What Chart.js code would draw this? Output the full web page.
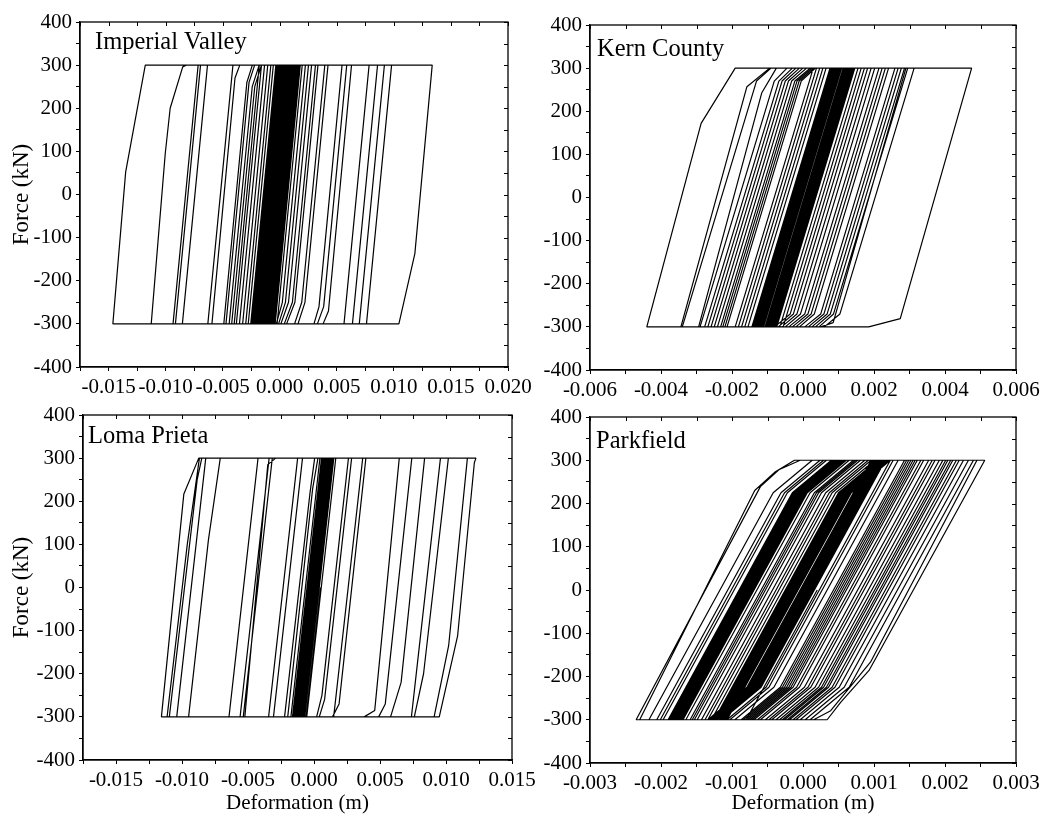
<!DOCTYPE html>
<html>
<head>
<meta charset="utf-8">
<script src="https://cdn.jsdelivr.net/npm/chart.js@4.4.0/dist/chart.umd.min.js"></script>
<style>
  html, body { margin: 0; padding: 0; background: #fff; }
  #wrap { position: relative; width: 1063px; height: 821px; overflow: hidden; }
  #wrap canvas { position: absolute; left: 0; top: 0; }
</style>
</head>
<body>
<div id="wrap">
  <canvas id="iv" width="1063" height="821"></canvas>
  <canvas id="kc" width="1063" height="821"></canvas>
  <canvas id="lp" width="1063" height="821"></canvas>
  <canvas id="pf" width="1063" height="821"></canvas>
</div>
<script>
// hysteresis paths, [deformation (m), force (kN)]
var imperialValley = [
  [-0.00150,-300],[0.00070,300],[0.00080,300],[-0.00140,-300],
  [-0.00160,-300],[0.00060,300],[0.00090,300],[-0.00130,-300],
  [-0.00171,-300],[0.00049,300],[0.00100,300],[-0.00120,-300],
  [-0.00182,-300],[0.00038,300],[0.00110,300],[-0.00110,-300],
  [-0.00193,-300],[0.00027,300],[0.00122,300],[-0.00098,-300],
  [-0.00204,-300],[0.00016,300],[0.00134,300],[-0.00086,-300],
  [-0.00215,-300],[0.00005,300],[0.00146,300],[-0.00074,-300],
  [-0.00232,-300],[-0.00012,300],[0.00156,300],[-0.00064,-300],
  [-0.00254,-300],[-0.00034,300],[0.00175,300],[-0.00045,-300],
  [-0.00276,-300],[-0.00056,300],[0.00197,300],[-0.00023,-300],
  [-0.00155,-300],[0.00065,300],[0.00085,300],[-0.00135,-300],
  [-0.00166,-300],[0.00054,300],[0.00095,300],[-0.00125,-300],
  [-0.00177,-300],[0.00043,300],[0.00105,300],[-0.00115,-300],
  [-0.00188,-300],[0.00032,300],[0.00116,300],[-0.00104,-300],
  [-0.00199,-300],[0.00021,300],[0.00128,300],[-0.00092,-300],
  [-0.00210,-300],[0.00010,300],[0.00140,300],[-0.00080,-300],
  [-0.00222,-300],[-0.00002,300],[0.00151,300],[-0.00069,-300],
  [-0.00228,-300],[-0.00008,300],[0.00162,300],[-0.00058,-300],
  [-0.00238,-300],[-0.00018,300],[0.00168,300],[-0.00052,-300],
  [-0.00246,-300],[-0.00026,300],[0.00180,300],[-0.00040,-300],
  [-0.00298,-300],[-0.00078,300],[0.00225,300],[0.00023,-250],[-0.00030,-300],
  [-0.00325,-300],[-0.00105,300],[0.00252,300],[0.00050,-250],[-0.00010,-300],
  [-0.00353,-300],[-0.00133,300],[0.00279,300],[0.00077,-250],[0.00010,-300],
  [-0.00380,-300],[-0.00160,300],[0.00313,300],[0.00111,-250],[0.00040,-300],
  [-0.00399,-300],[-0.00179,300],[0.00335,300],[0.00133,-250],[0.00060,-300],
  [-0.00421,-300],[-0.00219,250],[-0.00160,300],[0.00395,300],[0.00193,-250],[0.00130,-300],
  [-0.00443,-300],[-0.00241,250],[-0.00180,300],[0.00423,300],[0.00221,-250],[0.00160,-300],
  [-0.00471,-300],[-0.00269,260],[-0.00220,300],[0.00546,300],[0.00344,-260],[0.00300,-300],
  [-0.00490,-300],[-0.00288,260],[-0.00240,300],[0.00587,300],[0.00385,-260],[0.00330,-300],
  [-0.00594,-300],[-0.00392,270],[-0.00350,300],[0.00629,300],[0.00427,-270],[0.00380,-300],
  [-0.00630,-300],[-0.00410,300],[0.00783,300],[0.00563,-300],
  [-0.00853,-300],[-0.00633,300],[0.00857,300],[0.00637,-300],
  [-0.00914,-300],[-0.00694,300],[0.00917,300],[0.00697,-300],
  [-0.00935,-300],[-0.00715,300],[0.00980,300],[0.00760,-300],
  [-0.01462,-300],[-0.01350,52],[-0.01178,300],[0.01336,300],[0.01184,-137],[0.01044,-300],
  [-0.01126,-300],[-0.01003,95],[-0.00960,200],[-0.00850,296],[-0.00820,300],[0.00170,300],[-0.00050,-300],
  [0.00060,0]
];

var kernCounty = [
  [-0.00111,-300],[0.00109,300],[0.00113,300],[-0.00107,-300],
  [-0.00116,-300],[0.00104,300],[0.00118,300],[-0.00102,-300],
  [-0.00121,-300],[0.00099,300],[0.00123,300],[-0.00097,-300],
  [-0.00126,-300],[0.00094,300],[0.00128,300],[-0.00092,-300],
  [-0.00131,-300],[0.00089,300],[0.00133,300],[-0.00087,-300],
  [-0.00136,-300],[0.00084,300],[0.00138,300],[-0.00082,-300],
  [-0.00141,-300],[0.00079,300],[0.00142,300],[-0.00078,-300],
  [-0.00114,-300],[0.00106,300],[0.00116,300],[-0.00104,-300],
  [-0.00119,-300],[0.00101,300],[0.00121,300],[-0.00099,-300],
  [-0.00124,-300],[0.00096,300],[0.00126,300],[-0.00094,-300],
  [-0.00129,-300],[0.00091,300],[0.00131,300],[-0.00089,-300],
  [-0.00134,-300],[0.00086,300],[0.00136,300],[-0.00084,-300],
  [-0.00139,-300],[0.00081,300],[0.00140,300],[-0.00080,-300],
  [-0.00144,-300],[0.00076,300],[0.00144,300],[-0.00076,-300],
  [-0.00155,-300],[0.00065,300],[0.00146,300],[-0.00074,-300],
  [-0.00164,-300],[0.00056,300],[0.00155,300],[-0.00065,-300],
  [-0.00173,-300],[0.00047,300],[0.00164,300],[-0.00056,-300],
  [-0.00182,-300],[0.00038,300],[0.00173,300],[-0.00036,-270],[-0.00080,-300],
  [-0.00191,-300],[0.00029,300],[0.00182,300],[-0.00027,-270],[-0.00070,-300],
  [-0.00214,-300],[-0.00005,270],[0.00035,300],[0.00192,300],[-0.00017,-270],[-0.00060,-300],
  [-0.00220,-300],[-0.00011,270],[0.00030,300],[0.00202,300],[-0.00007,-270],[-0.00050,-300],
  [-0.00226,-300],[-0.00017,270],[0.00025,300],[0.00214,300],[0.00005,-270],[-0.00040,-300],
  [-0.00232,-300],[-0.00023,270],[0.00020,300],[0.00223,300],[0.00014,-270],[-0.00030,-300],
  [-0.00241,-300],[-0.00032,270],[0.00010,300],[0.00232,300],[0.00023,-270],[-0.00020,-300],
  [-0.00250,-300],[-0.00041,270],[0.00000,300],[0.00241,300],[0.00032,-270],[-0.00010,-300],
  [-0.00259,-300],[-0.00050,270],[-0.00010,300],[0.00259,300],[0.00050,-270],[0.00005,-300],
  [-0.00268,-300],[-0.00059,270],[-0.00020,300],[0.00268,300],[0.00059,-270],[0.00015,-300],
  [-0.00277,-300],[-0.00068,270],[-0.00030,300],[0.00277,300],[0.00068,-270],[0.00025,-300],
  [-0.00290,-300],[-0.00081,270],[-0.00045,300],[0.00286,300],[0.00077,-270],[0.00035,-300],
  [-0.00294,-300],[-0.00116,243],[-0.00075,300],[0.00295,300],[0.00086,-270],[0.00045,-300],
  [-0.00340,-300],[-0.00131,270],[-0.00090,300],[0.00290,300],[0.00085,-290],[0.00050,-300],
  [-0.00344,-300],[-0.00158,257],[-0.00094,300],[0.00313,300],[0.00104,-270],[0.00060,-300],
  [-0.00440,-300],[-0.00287,172],[-0.00191,300],[0.00475,300],[0.00274,-281],[0.00185,-300],
  [-0.00080,-300],[0.00030,0]
];

var lomaPrieta = [
  [-0.00127,-300],[0.00093,300],[0.00102,300],[-0.00118,-300],
  [-0.00136,-300],[0.00084,300],[0.00111,300],[-0.00109,-300],
  [-0.00145,-300],[0.00075,300],[0.00120,300],[-0.00100,-300],
  [-0.00154,-300],[0.00066,300],[0.00129,300],[-0.00091,-300],
  [-0.00163,-300],[0.00057,300],[0.00137,300],[-0.00083,-300],
  [-0.00132,-300],[0.00088,300],[0.00106,300],[-0.00114,-300],
  [-0.00141,-300],[0.00079,300],[0.00115,300],[-0.00105,-300],
  [-0.00150,-300],[0.00070,300],[0.00124,300],[-0.00096,-300],
  [-0.00159,-300],[0.00061,300],[0.00133,300],[-0.00087,-300],
  [-0.00123,-300],[0.00097,300],[0.00145,300],[-0.00075,-300],
  [-0.00175,-300],[0.00045,300],[0.00141,300],[-0.00079,-300],
  [-0.00199,-300],[-0.00010,230],[0.00030,300],[0.00150,300],[-0.00070,-300],
  [-0.00223,-300],[-0.00030,220],[0.00005,300],[0.00165,300],[-0.00055,-300],
  [-0.00307,-300],[-0.00087,300],[0.00261,300],[0.00060,-250],[0.00020,-300],
  [-0.00344,-300],[-0.00124,300],[0.00285,300],[0.00080,-260],[0.00040,-300],
  [-0.00524,-300],[-0.00350,285],[-0.00290,300],[0.00369,300],[0.00149,-300],
  [-0.00536,-300],[-0.00316,300],[0.00393,300],[0.00190,-270],[0.00140,-300],
  [-0.00560,-300],[-0.00340,300],[0.00646,300],[0.00460,-285],[0.00380,-300],
  [-0.00644,-300],[-0.00424,300],[0.00741,300],[0.00540,-270],[0.00490,-300],
  [-0.00950,-300],[-0.00800,110],[-0.00710,300],[0.00838,300],[0.00660,-220],[0.00580,-300],
  [-0.01040,-300],[-0.00820,300],[0.00958,300],[0.00738,-300],
  [-0.01096,-300],[-0.00885,250],[-0.00850,300],[0.01018,300],[0.00830,-200],[0.00760,-300],
  [-0.01113,-300],[-0.00960,100],[-0.00868,300],[0.01162,300],[0.01020,-135],[0.00910,-300],
  [-0.01156,-300],[-0.00986,217],[-0.00873,300],[0.01227,300],[0.01215,290],[0.01088,-112],[0.00949,-300],
  [-0.00060,-300],[0.00050,0]
];

var parkfield = [
  [-0.00107,-300],[0.00068,225],[0.00123,300],[0.00096,300],[-0.00079,-225],[-0.00134,-300],
  [-0.00110,-300],[0.00065,225],[0.00120,300],[0.00099,300],[-0.00076,-225],[-0.00131,-300],
  [-0.00113,-300],[0.00062,225],[0.00117,300],[0.00102,300],[-0.00073,-225],[-0.00128,-300],
  [-0.00116,-300],[0.00059,225],[0.00114,300],[0.00105,300],[-0.00070,-225],[-0.00125,-300],
  [-0.00119,-300],[0.00056,225],[0.00111,300],[0.00108,300],[-0.00067,-225],[-0.00122,-300],
  [-0.00122,-300],[0.00053,225],[0.00108,300],[0.00111,300],[-0.00064,-225],[-0.00119,-300],
  [-0.00125,-300],[0.00050,225],[0.00105,300],[0.00114,300],[-0.00061,-225],[-0.00116,-300],
  [-0.001085,-300],[0.000665,225],[0.001215,300],[0.000975,300],[-0.000775,-225],[-0.001325,-300],
  [-0.001115,-300],[0.000635,225],[0.001185,300],[0.001005,300],[-0.000745,-225],[-0.001295,-300],
  [-0.001145,-300],[0.000605,225],[0.001155,300],[0.001035,300],[-0.000715,-225],[-0.001265,-300],
  [-0.001175,-300],[0.000575,225],[0.001125,300],[0.001065,300],[-0.000685,-225],[-0.001235,-300],
  [-0.001205,-300],[0.000545,225],[0.001095,300],[0.001095,300],[-0.000655,-225],[-0.001205,-300],
  [-0.001235,-300],[0.000515,225],[0.001065,300],[0.001125,300],[-0.000625,-225],[-0.001175,-300],
  [-0.00129,-300],[0.00046,225],[0.00101,300],[0.00116,300],[-0.00059,-225],[-0.00114,-300],
  [-0.00134,-300],[0.00041,225],[0.00096,300],[0.00123,300],[-0.00052,-225],[-0.00107,-300],
  [-0.00138,-300],[0.00037,225],[0.00092,300],[0.00127,300],[-0.00048,-225],[-0.00103,-300],
  [-0.00143,-300],[0.00032,225],[0.00087,300],[0.00134,300],[-0.00041,-225],[-0.00096,-300],
  [-0.00149,-300],[0.00026,225],[0.00081,300],[0.00143,300],[-0.00032,-225],[-0.00087,-300],
  [-0.00153,-300],[0.00022,225],[0.00077,300],[0.00146,300],[-0.00029,-225],[-0.00084,-300],
  [-0.00156,-300],[0.00019,225],[0.00074,300],[0.00149,300],[-0.00026,-225],[-0.00081,-300],
  [-0.00159,-300],[0.00016,225],[0.00071,300],[0.00152,300],[-0.00023,-225],[-0.00078,-300],
  [-0.00165,-300],[0.00010,225],[0.00065,300],[0.00155,300],[-0.00020,-225],[-0.00075,-300],
  [-0.00169,-300],[0.00006,225],[0.00061,300],[0.00158,300],[-0.00017,-225],[-0.00072,-300],
  [-0.00172,-300],[0.00003,225],[0.00058,300],[0.00161,300],[-0.00014,-225],[-0.00069,-300],
  [-0.00175,-300],[0.00000,225],[0.00055,300],[0.00166,300],[-0.00009,-225],[-0.00064,-300],
  [-0.00178,-300],[-0.00003,225],[0.00052,300],[0.00170,300],[-0.00005,-225],[-0.00060,-300],
  [-0.00181,-300],[-0.00006,225],[0.00049,300],[0.00177,300],[0.00002,-225],[-0.00053,-300],
  [-0.00184,-300],[-0.00009,225],[0.00046,300],[0.00186,300],[0.00011,-225],[-0.00044,-300],
  [-0.00187,-300],[-0.00012,225],[0.00043,300],[0.00197,300],[0.00022,-225],[-0.00033,-300],
  [-0.00190,-300],[-0.00015,225],[0.00040,300],[0.00204,300],[0.00029,-225],[-0.00026,-300],
  [-0.001885,-300],[-0.000135,225],[0.000415,300],[0.001150,300],[-0.000600,-225],[-0.001150,-300],
  [-0.001855,-300],[-0.000105,225],[0.000445,300],[0.00182,300],[0.00007,-225],[-0.00048,-300],
  [-0.001825,-300],[-0.000075,225],[0.000475,300],[0.00192,300],[0.00017,-225],[-0.00038,-300],
  [-0.001795,-300],[-0.000045,225],[0.000505,300],[0.00201,300],[0.00026,-225],[-0.00029,-300],
  [-0.001765,-300],[-0.000015,225],[0.000535,300],[0.00208,300],[0.00033,-225],[-0.00022,-300],
  [-0.001735,-300],[0.000015,225],[0.000565,300],[0.00216,300],[0.00041,-225],[-0.00014,-300],
  [-0.001705,-300],[0.000045,225],[0.000595,300],[0.00233,300],[0.00058,-225],[0.00003,-300],
  [-0.00197,-300],[-0.00022,225],[0.00033,300],[0.00211,300],[0.00036,-225],[-0.00019,-300],
  [-0.00201,-300],[-0.00026,225],[0.00029,300],[0.00220,300],[0.00045,-225],[-0.00010,-300],
  [-0.00206,-300],[-0.00031,225],[0.00024,300],[0.00226,300],[0.00051,-225],[-0.00004,-300],
  [-0.00217,-300],[-0.00042,225],[0.00013,300],[0.00240,300],[0.00065,-225],[0.00010,-300],
  [-0.00230,-300],[-0.00068,230],[-0.00040,272],[-0.00012,300],[0.00245,300],[0.00095,-167],[0.00039,-279],[0.00015,-300],
  [-0.00235,-300],[-0.00060,239],[-0.00034,278],[-0.00004,300],[0.00256,300],[0.00093,-186],[0.00053,-260],[0.00034,-300],
  [-0.00080,-300],[0.00020,0]
];

var forceMin = -400, forceMax = 400, forceStep = 50, forceLabelStep = 100;

var framePlugin = {
  id: 'frame',
  afterDraw: function(chart, args, o) {
    var a = chart.chartArea, c = chart.ctx;
    var xs = chart.scales.x, ys = chart.scales.y;
    c.save();
    c.strokeStyle = '#000';
    c.lineWidth = 1.3;
    c.strokeRect(a.left, a.top, a.right - a.left, a.bottom - a.top);
    c.lineWidth = 1;
    c.beginPath();
    xs.ticks.forEach(function(t) {
      var p = Math.round(xs.getPixelForValue(t.value)) + 0.5;
      c.moveTo(p, a.top); c.lineTo(p, a.top + 4);
    });
    ys.ticks.forEach(function(t) {
      var p = Math.round(ys.getPixelForValue(t.value)) + 0.5;
      c.moveTo(a.right, p); c.lineTo(a.right - 4, p);
    });
    c.stroke();
    c.fillStyle = '#000';
    c.font = '24.5px "Liberation Serif"';
    c.textBaseline = 'alphabetic';
    c.textAlign = 'left';
    c.fillText(o.label, a.left + o.dx, a.top + o.dy);
    c.restore();
  }
};

function defLabel(major) {
  return function(v) {
    var k = Math.round(v / major);
    if (Math.abs(k * major - v) > major * 1e-6) return '';
    var r = Math.round(v * 1000) / 1000;
    return (r === 0 ? 0 : r).toFixed(3);
  };
}

function panel(id, path, o) {
  var yAxisW = o.left - o.padL;
  return new Chart(document.getElementById(id), {
    type: 'scatter',
    data: {
      datasets: [{
        data: path.map(function(p) { return { x: p[0], y: p[1] }; }),
        showLine: true,
        borderColor: '#000',
        borderWidth: 1.2,
        borderJoinStyle: 'bevel',
        pointRadius: 0,
        fill: false,
        tension: 0
      }]
    },
    options: {
      responsive: false,
      animation: false,
      devicePixelRatio: 1,
      layout: {
        autoPadding: false,
        padding: { left: o.padL, right: 1063 - o.right, top: o.top, bottom: 821 - o.bottom - o.xH }
      },
      plugins: {
        legend: { display: false },
        tooltip: { enabled: false },
        frame: { label: o.label, dx: o.dx, dy: o.dy }
      },
      scales: {
        x: {
          type: 'linear',
          position: 'bottom',
          min: o.xMin, max: o.xMax,
          ticks: {
            stepSize: o.xStep, autoSkip: false, maxRotation: 0, minRotation: 0,
            padding: 4, color: '#000',
            font: { family: 'Liberation Serif', size: 21 },
            callback: defLabel(o.xMajor)
          },
          grid: { drawOnChartArea: false, drawTicks: true, tickLength: 4, color: '#000', lineWidth: 1 },
          border: { display: true, color: '#000', width: 1.3 },
          title: {
            display: !!o.xTitle, text: 'Deformation (m)', color: '#000',
            font: { family: 'Liberation Serif', size: 21 },
            padding: { top: 0, bottom: 4 }
          },
          afterFit: function(s) { s.height = o.xH; s.paddingLeft = 0; s.paddingRight = 0; }
        },
        y: {
          type: 'linear',
          position: 'left',
          min: forceMin, max: forceMax,
          ticks: {
            stepSize: forceStep, autoSkip: false, padding: 4, color: '#000',
            font: { family: 'Liberation Serif', size: 21 },
            callback: function(v) { return Math.abs(v % forceLabelStep) < 1e-9 ? String(Math.round(v)) : ''; }
          },
          grid: { drawOnChartArea: false, drawTicks: true, tickLength: 4, color: '#000', lineWidth: 1 },
          border: { display: true, color: '#000', width: 1.3 },
          title: {
            display: !!o.yTitle, text: 'Force (kN)', color: '#000',
            font: { family: 'Liberation Serif', size: 23 },
            padding: { top: 8, bottom: 0 }
          },
          afterFit: function(s) { s.width = yAxisW; s.paddingTop = 0; s.paddingBottom = 0; }
        }
      }
    },
    plugins: [framePlugin]
  });
}

panel('iv', imperialValley, {
  label: 'Imperial Valley', dx: 15, dy: 27,
  padL: 0, left: 80, right: 508, top: 22, bottom: 367, xH: 30,
  xMin: -0.0175, xMax: 0.02, xStep: 0.0025, xMajor: 0.005, yTitle: true
});
panel('kc', kernCounty, {
  label: 'Kern County', dx: 7, dy: 31,
  padL: 520, left: 590, right: 1016, top: 25, bottom: 370, xH: 30,
  xMin: -0.006, xMax: 0.006, xStep: 0.001, xMajor: 0.002
});
panel('lp', lomaPrieta, {
  label: 'Loma Prieta', dx: 5, dy: 28,
  padL: 0, left: 83, right: 512, top: 415, bottom: 760, xH: 60,
  xMin: -0.0175, xMax: 0.015, xStep: 0.0025, xMajor: 0.005, yTitle: true, xTitle: true
});
panel('pf', parkfield, {
  label: 'Parkfield', dx: 6, dy: 31,
  padL: 520, left: 590, right: 1016, top: 417, bottom: 763, xH: 57,
  xMin: -0.003, xMax: 0.003, xStep: 0.0005, xMajor: 0.001, xTitle: true
});
</script>
</body>
</html>
